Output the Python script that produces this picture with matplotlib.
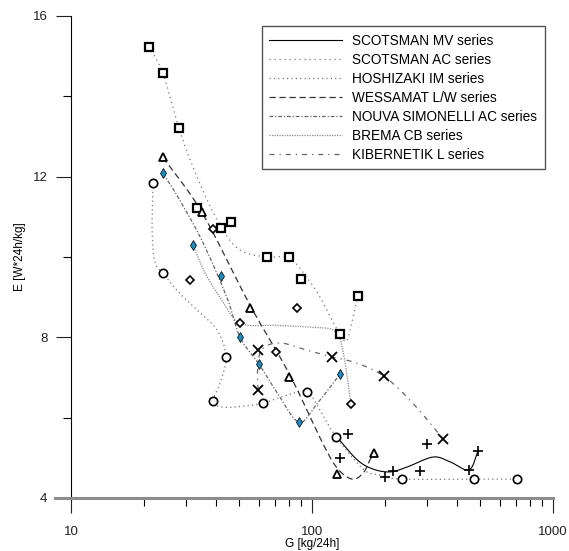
import numpy as np
import matplotlib
matplotlib.use('Agg')
import matplotlib.pyplot as plt

plt.rcParams['font.family'] = ['Liberation Sans', 'DejaVu Sans']

# ---- data: G [kg/24h], E [W*24h/kg] ----
# SCOTSMAN MV series (+)
mv_g = [130.6, 141, 201, 217, 281, 300, 448, 489]
mv_e = [5.0, 5.59, 4.52, 4.67, 4.67, 5.34, 4.70, 5.17]
mv_curve_g = [128, 154, 179, 211, 248, 318, 374, 448, 489]
mv_curve_e = [5.49, 4.95, 4.72, 4.65, 4.77, 5.02, 4.90, 4.70, 5.17]

# SCOTSMAN AC series (squares)
ac_g = [21.07, 24.08, 28.06, 33.3, 41.9, 46.1, 65, 80.3, 90, 130.6, 155]
ac_e = [15.24, 14.57, 13.2, 11.21, 10.72, 10.87, 10.0, 10.0, 9.45, 8.08, 9.02]
ac_curve_g = [21.07, 24.08, 28.06, 33.3, 41.5, 50.3, 65, 80.3, 95, 108, 121, 130.6, 139, 146, 155]
ac_curve_e = [15.24, 14.57, 13.2, 12.0, 10.79, 10.17, 10.0, 9.98, 9.5, 9.0, 8.43, 8.08, 7.9, 8.35, 9.02]

# HOSHIZAKI IM series (circles)
hz_g = [21.9, 24.1, 38.8, 44.0, 62.6, 95.3, 125.8, 236, 470, 709]
hz_e = [11.84, 9.6, 6.41, 7.51, 6.36, 6.64, 5.52, 4.47, 4.47, 4.47]
hz_curve_g = [21.9, 21.7, 22.3, 24.1, 27.5, 33.3, 40.4, 44.0, 41.5, 38.8, 42.7, 52.7, 62.6,
              78, 95.3, 110, 125.8, 163, 191, 236, 470, 709]
hz_curve_e = [11.84, 10.67, 9.87, 9.6, 9.17, 8.68, 8.18, 7.51, 6.86, 6.41, 6.26, 6.29, 6.36,
              6.55, 6.64, 6.1, 5.52, 4.72, 4.57, 4.47, 4.47, 4.47]

# WESSAMAT L/W series (triangles)
ws_g = [24.1, 35.0, 55.3, 80.3, 127, 180.8]
ws_e = [12.48, 11.11, 8.73, 7.01, 4.6, 5.12]
ws_curve_g = [24.1, 35.0, 55.3, 80.3, 110, 127, 146.5, 163, 174, 180.8]
ws_curve_e = [12.48, 11.1, 8.8, 7.1, 5.4, 4.75, 4.47, 4.62, 4.95, 5.12]

# NOUVA SIMONELLI AC series (blue thin diamonds)
ns_g = [24.1, 32.1, 41.9, 50.3, 60.3, 88.3, 130.6]
ns_e = [12.08, 10.29, 9.52, 8.0, 7.33, 5.89, 7.08]
ns_curve_g = [24.1, 28.3, 35, 44.3, 50.3, 60.3, 72, 88.3, 105, 130.6]
ns_curve_e = [12.08, 11.41, 10.4, 9.0, 8.0, 7.33, 6.6, 5.89, 6.35, 7.08]

# BREMA CB series (open diamonds)
br_g = [31.2, 38.8, 50.3, 70.9, 86.6, 145]
br_e = [9.42, 10.69, 8.35, 7.63, 8.73, 6.34]
br_curve_g = [32.1, 36, 42, 50.3, 70, 100, 125, 135, 145]
br_curve_e = [10.3, 9.6, 8.95, 8.35, 8.3, 8.25, 8.15, 7.6, 6.34]

# KIBERNETIK L series (x)
kb_g = [59.7, 59.7, 121, 199, 350]
kb_e = [7.68, 6.69, 7.51, 7.03, 5.47]
kb_curve_g = [59.7, 59.5, 62, 73.6, 95.3, 121, 153, 199, 262, 350]
kb_curve_e = [6.69, 7.2, 7.7, 7.86, 7.68, 7.51, 7.36, 7.03, 6.36, 5.47]

labels = ['SCOTSMAN MV series', 'SCOTSMAN AC series', 'HOSHIZAKI IM series',
          'WESSAMAT L/W series', 'NOUVA SIMONELLI AC series', 'BREMA CB series',
          'KIBERNETIK L series']


def smooth(gs, es, n=24):
    # catmull-rom through the read curve points, done in log(G) space
    p = np.column_stack([np.log10(gs), es])
    p = np.vstack([2 * p[0] - p[1], p, 2 * p[-1] - p[-2]])
    t = np.linspace(0, 1, n)[:, None]
    out = []
    for i in range(1, len(p) - 2):
        p0, p1, p2, p3 = p[i - 1], p[i], p[i + 1], p[i + 2]
        seg = 0.5 * ((2 * p1) + (-p0 + p2) * t + (2 * p0 - 5 * p1 + 4 * p2 - p3) * t ** 2
                     + (-p0 + 3 * p1 - 3 * p2 + p3) * t ** 3)
        out.append(seg)
    out = np.vstack(out)
    return 10 ** out[:, 0], out[:, 1]


fig = plt.figure(figsize=(5.69, 5.51), dpi=100)
ax = fig.add_axes([0.1248, 0.0962, 0.8471, 0.8748])

series = [
    (mv_curve_g, mv_curve_e, dict(color='black', lw=0.8, ls='-'),
     mv_g, mv_e, dict(marker='+', ms=7.5, mew=1.2, color='black')),
    (ac_curve_g, ac_curve_e, dict(color='#777777', lw=0.9, ls=(0, (1, 3))),
     ac_g, ac_e, dict(marker='s', ms=6, mew=1.6, mfc='white', mec='black')),
    (hz_curve_g, hz_curve_e, dict(color='#777777', lw=0.9, ls=(0, (1, 2.5))),
     hz_g, hz_e, dict(marker='o', ms=6, mew=1.2, mfc='white', mec='black')),
    (ws_curve_g, ws_curve_e, dict(color='#333333', lw=0.9, ls=(0, (5, 3))),
     ws_g, ws_e, dict(marker='^', ms=6, mew=1.3, mfc='white', mec='black')),
    (ns_curve_g, ns_curve_e, dict(color='#666666', lw=0.9, ls=(0, (3, 1.5, 1, 1.5))),
     ns_g, ns_e, dict(marker='d', ms=5.5, mew=0.5, mfc='#1b8bc0', mec='black')),
    (br_curve_g, br_curve_e, dict(color='#888888', lw=0.9, ls=(0, (1, 1))),
     br_g, br_e, dict(marker='D', ms=4.5, mew=1.2, mfc='white', mec='black')),
    (kb_curve_g, kb_curve_e, dict(color='#666666', lw=0.9, ls=(0, (4, 4, 1, 4))),
     kb_g, kb_e, dict(marker='x', ms=7, mew=1.3, color='black')),
]

handles = []
for cg, ce, lstyle, mg, me, mstyle in series:
    sx, sy = smooth(cg, ce)
    h, = ax.plot(sx, sy, zorder=2, **lstyle)
    handles.append(h)
    ax.plot(mg, me, ls='none', zorder=3, **mstyle)

ax.set_xscale('log')
ax.set_xlim(10, 1000)
ax.set_ylim(4, 16)
ax.set_yticks([4, 8, 12, 16])
ax.set_yticks([6, 10, 14], minor=True)
ax.set_xticks([10, 100, 1000])
ax.set_xticklabels(['10', '100', '1000'])
ax.tick_params(axis='y', which='major', length=11, width=0.8, pad=6, labelsize=9.5, colors='#222222')
ax.tick_params(axis='y', which='minor', length=6, width=0.8)
ax.tick_params(axis='x', which='major', length=11, width=0.8, pad=9, labelsize=9.5, colors='#222222')
ax.tick_params(axis='x', which='minor', length=6, width=0.8)

for s in ['top', 'right']:
    ax.spines[s].set_visible(False)
ax.spines['left'].set_linewidth(0.8)
ax.spines['bottom'].set_color('#8c8c8c')
ax.spines['bottom'].set_linewidth(2.2)
ax.plot([-0.034, 0], [0, 0], transform=ax.transAxes, color='#8c8c8c', lw=2.2, clip_on=False)

ax.set_xlabel('G [kg/24h]', fontsize=8.5, labelpad=0)
ax.set_ylabel('E [W*24h/kg]', fontsize=8.5, labelpad=5)

leg = ax.legend(handles, labels, loc='upper left', bbox_to_anchor=(0.396, 0.979),
                fontsize=9.8, handlelength=5.3, handletextpad=0.8, labelspacing=0.37,
                borderpad=0.55, fancybox=False, framealpha=1, borderaxespad=0)
leg.get_frame().set_edgecolor('#555555')
leg.get_frame().set_linewidth(1.0)

fig.savefig('out.png', dpi=100)
